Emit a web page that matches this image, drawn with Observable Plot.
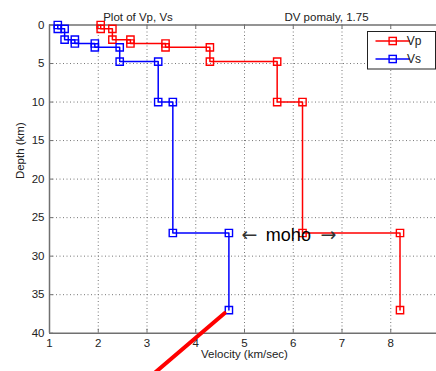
<!DOCTYPE html>
<html>
<head>
<meta charset="utf-8">
<script src="https://cdn.jsdelivr.net/npm/d3@7"></script>
<script src="https://cdn.jsdelivr.net/npm/@observablehq/plot@0.6"></script>
<style>
  html, body { margin: 0; padding: 0; background: #fff; }
  #chart { position: relative; width: 436px; height: 371px; overflow: hidden; }
</style>
</head>
<body>
<div id="chart"></div>
<script>
// Layered velocity model: layer top / bottom depths (km)
const layerTops    = [0, 0.5, 1.9, 2.4, 2.9, 4.75, 10, 27];
const layerBottoms = [0.5, 1.9, 2.4, 2.9, 4.75, 10, 27, 37];
// Interval velocities (km/sec)
const vp = [2.05, 2.29, 2.66, 3.38, 4.29, 5.67, 6.19, 8.19];
const vs = [1.17, 1.31, 1.52, 1.93, 2.44, 3.23, 3.53, 4.68];
// Axis ticks
const xTicks = [1, 2, 3, 4, 5, 6, 7, 8];
const yTicks = [0, 5, 10, 15, 20, 25, 30, 35, 40];
// Annotations
const mohoLabel = [{v: 5.9, depth: 27.3, text: "moho"}];
const pointer = [{v: 4.59, depth: 37.4}, {v: 3.0, depth: 46}];
const titles = ["Plot of Vp, Vs", "DV pomaly, 1.75"];

// Step profile: each layer contributes its top and bottom vertex
function steps(vel) {
  const pts = [];
  vel.forEach((v, i) => {
    pts.push({v, depth: layerTops[i]});
    pts.push({v, depth: layerBottoms[i]});
  });
  return pts;
}
const vpPath = steps(vp);
const vsPath = steps(vs);

const W = 436, H = 371;
const mTop = 24.5, mBottom = 38.3, mLeft = 49, mRight = -3;
const frameW = W - mLeft - mRight, frameH = H - mTop - mBottom;
const axisColor = "#707070";
const font = "'Liberation Sans', Arial, Helvetica, sans-serif";
const arrowFont = "'DejaVu Sans', sans-serif";

const chart = Plot.plot({
  width: W,
  height: H,
  marginTop: mTop,
  marginBottom: mBottom,
  marginLeft: mLeft,
  marginRight: mRight,
  x: {domain: [1, 9], range: [mLeft, W - mRight]},
  y: {domain: [0, 40], range: [mTop, H - mBottom]},
  style: {fontFamily: font, fontSize: "11.5px", color: "#222", background: "#fff", overflow: "visible"},
  marks: [
    // dotted grid
    Plot.gridX(xTicks.slice(1), {stroke: "#777", strokeOpacity: 1, strokeDasharray: "1,2.5"}),
    Plot.gridY(yTicks.slice(1, -1), {stroke: "#777", strokeOpacity: 1, strokeDasharray: "1,2.5"}),
    // inward tick marks
    Plot.tickX(xTicks, {x: d => d, insetTop: frameH - 4, stroke: axisColor}),
    Plot.tickX(xTicks, {x: d => d, insetBottom: frameH - 4, stroke: axisColor}),
    Plot.tickY(yTicks, {y: d => d, insetRight: frameW - 4, stroke: axisColor}),
    // axis box (left, top, bottom)
    Plot.ruleX([1], {stroke: axisColor, strokeWidth: 1.5}),
    Plot.ruleY([0, 40], {stroke: axisColor, strokeWidth: 1.5}),
    // tick labels
    Plot.axisX(xTicks, {tickSize: 0, tickPadding: 6, label: null, fill: "#222"}),
    Plot.axisY(yTicks, {tickSize: 0, tickPadding: 5, label: null, fill: "#222"}),
    // velocity profiles
    Plot.line(vpPath, {x: "v", y: "depth", stroke: "#ff0000", strokeWidth: 1.5, curve: "linear"}),
    Plot.dot(vpPath, {x: "v", y: "depth", symbol: "square", r: 4.1, stroke: "#ff0000", fill: "none", strokeWidth: 1.4}),
    Plot.line(vsPath, {x: "v", y: "depth", stroke: "#0000ff", strokeWidth: 1.5, curve: "linear"}),
    Plot.dot(vsPath, {x: "v", y: "depth", symbol: "square", r: 4.1, stroke: "#0000ff", fill: "none", strokeWidth: 1.4}),
    // thick pointer line
    Plot.line(pointer, {x: "v", y: "depth", stroke: "#ff0000", strokeWidth: 4}),
    // moho annotation: word flanked by arrows
    Plot.text(mohoLabel, {x: "v", y: "depth", text: "text", fontSize: 18, fill: "#000"}),
    Plot.text(mohoLabel, {x: "v", y: "depth", text: () => "\u2190", dx: -39, fontSize: 19, fontFamily: arrowFont, fill: "#333"}),
    Plot.text(mohoLabel, {x: "v", y: "depth", text: () => "\u2192", dx: 40, fontSize: 19, fontFamily: arrowFont, fill: "#333"}),
    // titles and axis labels
    Plot.text([titles[0]], {frameAnchor: "top-left", dx: 137.5 - mLeft, dy: -12.2, textAnchor: "middle", fill: "#222"}),
    Plot.text([titles[1]], {frameAnchor: "top-left", dx: 326 - mLeft, dy: -12.2, textAnchor: "middle", fill: "#222"}),
    Plot.text(["Velocity (km/sec)"], {frameAnchor: "bottom", dy: 25, fill: "#222"}),
    Plot.text(["Depth (km)"], {frameAnchor: "left", dx: -29, rotate: -90, fill: "#222"})
  ]
});

// Legend box in the upper right corner
const svg = d3.select(chart);
const lg = svg.append("g").attr("font-family", font).attr("font-size", 12);
lg.append("rect").attr("x", 367.5).attr("y", 31.5).attr("width", 68).attr("height", 37.5)
  .attr("fill", "#fff").attr("stroke", "#222").attr("stroke-width", 1);
const entries = [{name: "Vp", color: "#ff0000", y: 41}, {name: "Vs", color: "#0000ff", y: 59}];
entries.forEach(e => {
  lg.append("line").attr("x1", 375.5).attr("x2", 410).attr("y1", e.y).attr("y2", e.y)
    .attr("stroke", e.color).attr("stroke-width", 1.5);
  lg.append("rect").attr("x", 392.7 - 3.6).attr("y", e.y - 3.6).attr("width", 7.2).attr("height", 7.2)
    .attr("fill", "none").attr("stroke", e.color).attr("stroke-width", 1.4);
  lg.append("text").attr("x", 414).attr("y", e.y).attr("dy", "0.36em").attr("fill", "#222").text(e.name);
});

document.getElementById("chart").appendChild(chart);
</script>
</body>
</html>
